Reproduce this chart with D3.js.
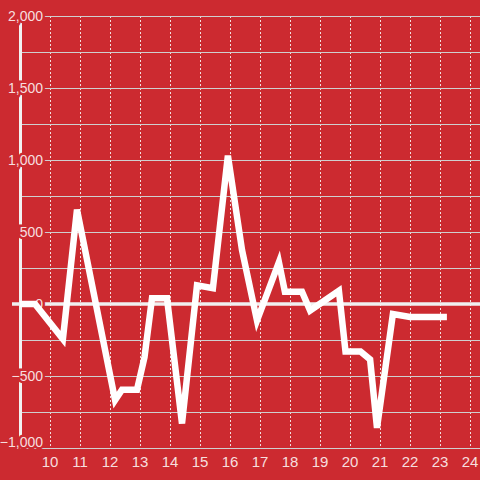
<!DOCTYPE html>
<html><head><meta charset="utf-8">
<script src="https://cdn.jsdelivr.net/npm/d3@7"></script>
<style>html,body{margin:0;padding:0;background:#cc2a30;}svg{display:block;}</style>
</head><body>
<script>
const xValues = [9.0, 9.5, 10.43, 10.9, 12.17, 12.4, 12.9, 13.15, 13.4, 13.9, 14.4, 14.9, 15.43, 15.93, 16.4, 16.9, 17.63, 17.83, 18.4, 18.67, 19.63, 19.85, 20.35, 20.67, 20.9, 21.43, 22.0, 23.23];
const yValues = [0, 0, -243, 655, -667, -595, -595, -370, 40, 40, -830, 130, 110, 1030, 375, -115, 290, 85, 85, -45, 92, -330, -330, -385, -860, -70, -90, -90];
const xTicks = [10, 11, 12, 13, 14, 15, 16, 17, 18, 19, 20, 21, 22, 23, 24];
const yTicks = [-1000, -500, 0, 500, 1000, 1500, 2000];
const yGrid = [-1000, -750, -500, -250, 0, 250, 500, 750, 1000, 1250, 1500, 1750, 2000];

const W = 480, H = 480, bg = "#cc2a30";
const x = d3.scaleLinear().domain([9, 24]).range([20, 470]);
const y = d3.scaleLinear().domain([-1000, 2000]).range([448, 16]);

const svg = d3.select("body").append("svg").attr("width", W).attr("height", H);
svg.append("rect").attr("width", W).attr("height", H).attr("fill", bg);

// vertical dotted grid
svg.append("g").selectAll("line").data(xTicks).join("line")
  .attr("x1", d => x(d) + 0.5).attr("x2", d => x(d) + 0.5)
  .attr("y1", y(2000)).attr("y2", y(-1000) - 1)
  .attr("stroke", "#f2dede").attr("stroke-width", 1).attr("stroke-dasharray", "2,2");

// horizontal grid
svg.append("g").selectAll("line").data(yGrid.filter(d => d !== 0)).join("line")
  .attr("x1", 20).attr("x2", W)
  .attr("y1", d => y(d) + 0.5).attr("y2", d => y(d) + 0.5)
  .attr("stroke", "#cfcfcf").attr("stroke-width", 1.2);

// y axis line
svg.append("line").attr("x1", 20.5).attr("x2", 20.5).attr("y1", y(2000)).attr("y2", y(-1000))
  .attr("stroke", "#f2f2f2").attr("stroke-width", 3);

// zero line
svg.append("line").attr("x1", 12).attr("x2", W).attr("y1", y(0)).attr("y2", y(0))
  .attr("stroke", "#f0f0f0").attr("stroke-width", 3.5);

// y labels with halo
svg.append("g").selectAll("text").data(yTicks).join("text")
  .attr("x", 43).attr("y", d => y(d) + (d === -1000 ? -6 : 0))
  .attr("dy", "0.36em").attr("text-anchor", "end")
  .attr("font-family", "Liberation Sans, Arial, sans-serif").attr("font-size", 14)
  .attr("fill", "rgba(255,255,255,0.86)")
  .attr("stroke", bg).attr("stroke-width", 5).attr("paint-order", "stroke")
  .text(d => d3.format(",")(d));

// x labels
svg.append("g").selectAll("text").data(xTicks).join("text")
  .attr("x", d => x(d)).attr("y", 467)
  .attr("text-anchor", "middle")
  .attr("font-family", "Liberation Sans, Arial, sans-serif").attr("font-size", 15)
  .attr("fill", "rgba(255,255,255,0.86)")
  .text(d => d);

// data line
const pts = xValues.map((d, i) => [d, yValues[i]]);
svg.append("path").datum(pts)
  .attr("d", d3.line().x(d => x(d[0])).y(d => y(d[1])))
  .attr("fill", "none").attr("stroke", "#ffffff").attr("stroke-width", 6.5)
  .attr("stroke-linejoin", "miter");
</script>
</body></html>
